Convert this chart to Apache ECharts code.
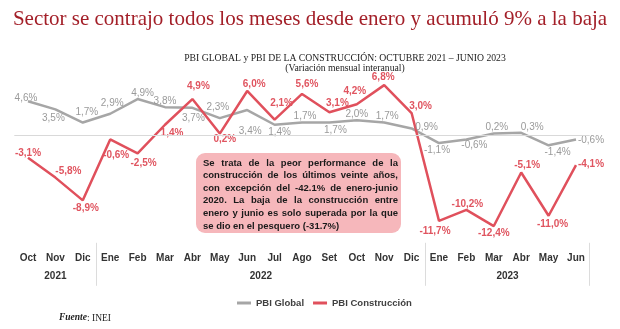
<!DOCTYPE html>
<html><head><meta charset="utf-8">
<script src="https://cdn.jsdelivr.net/npm/echarts@6/dist/echarts.min.js"></script>
<style>html,body{margin:0;padding:0;background:#fff}#c{width:620px;height:329px}</style>
</head><body><div id="c"></div>
<script>
var months = ['Oct','Nov','Dic','Ene','Feb','Mar','Abr','May','Jun','Jul','Ago','Set','Oct','Nov','Dic','Ene','Feb','Mar','Abr','May','Jun'];
var yearLabels = ['2021','2022','2023'];
var yearCenters = [1, 8.5, 17.5];
var yearSeparators = [2.5, 14.5, 20.5];
var pbiGlobal = [4.6,3.5,1.7,2.9,4.9,3.8,3.7,2.3,3.4,1.4,1.7,1.7,2.0,1.7,0.9,-1.1,-0.6,0.2,0.3,-1.4,-0.6];
var pbiConstruccion = [-3.1,-5.8,-8.9,-0.6,-2.5,1.4,4.9,0.2,6.0,2.1,5.6,3.1,4.2,6.8,3.0,-11.7,-10.2,-12.4,-5.1,-11.0,-4.1];
// label offsets (styling only), [dx, dy] from each point
var globalLabelOffsets = [[-2,-3],[-2,9],[4,-10],[2,-10],[5,-6],[0,-6],[1,10],[-2,-11],[3,21],[5,7],[3,-6],[6,8],[0,-6],[3,-6],[15,-1],[-2,7],[8,6],[3,-6],[11,-6],[9,7],[15,1]];
var consLabelOffsets = [[0,-5],[13,-6],[3,8],[6,16],[6,10],[7,8],[6,-13],[5,6],[7,-7],[7,-16],[5,-10],[8,-9],[-2,-13],[-1,-8],[9,-7],[-4,10],[1,-6],[0,7],[6,-7],[4,8],[15,-1]];
var noteLines = [
  'Se trata de la peor performance de la',
  'construcción de los últimos veinte años,',
  'con excepción del -42.1% de enero-junio',
  '2020. La baja de la construcción entre',
  'enero y junio es solo superada por la que',
  'se dio en el pesquero (-31.7%)'
];

function fmt(v){ return v.toFixed(1).replace('.', ',') + '%'; }
function mk(vals, offs){
  return vals.map(function(v,i){ return {value:v, label:{offset:offs[i]}}; });
}
// justified note text (decorative)
var noteFont = 'bold 9.5px "Liberation Sans"';
var ctx = document.createElement('canvas').getContext('2d');
ctx.font = noteFont;
var noteX = 203, noteW = 195, noteY = 158, noteLH = 12.6;
var noteEls = [];
noteLines.forEach(function(line, li){
  var words = line.split(' ');
  var y = noteY + li*noteLH;
  if (li === noteLines.length-1) {
    noteEls.push({type:'text', x:noteX, y:y, z:11, style:{text:line, font:noteFont, fill:'#1a1a1a'}});
    return;
  }
  var widths = words.map(function(w){ return ctx.measureText(w).width; });
  var total = widths.reduce(function(a,b){return a+b;},0);
  var gap = (noteW - total)/(words.length-1);
  var x = noteX;
  words.forEach(function(w,i){
    noteEls.push({type:'text', x:x, y:y, z:11, style:{text:w, font:noteFont, fill:'#1a1a1a'}});
    x += widths[i] + gap;
  });
});

var chart = echarts.init(document.getElementById('c'), null, {renderer:'canvas'});
chart.setOption({
  animation:false,
  title:[
    {text:'Sector se contrajo todos los meses desde enero y acumuló 9% a la baja', left:'center', top:4,
     textStyle:{fontFamily:'Liberation Serif', fontSize:21, fontWeight:'normal', color:'#a31f28'}},
    {text:'PBI GLOBAL y PBI DE LA CONSTRUCCIÓN: OCTUBRE 2021 – JUNIO 2023\n(Variación mensual interanual)', left:340, top:48, textAlign:'center',
     textStyle:{fontFamily:'Liberation Serif', fontSize:9.7, fontWeight:'normal', color:'#222', lineHeight:10.5, align:'center'}}
  ],
  grid:{left:14.3, right:30.3, top:76.3, bottom:91.2},
  xAxis:[
    {type:'category', data:months, boundaryGap:true, position:'bottom',
     axisLine:{show:false}, axisTick:{show:false},
     axisLabel:{margin:15, interval:0, fontFamily:'Liberation Sans', fontSize:10, fontWeight:'bold', color:'#333'}},
    {type:'value', min:-0.5, max:20.5, position:'bottom', offset:5, splitLine:{show:false},
     axisLine:{show:false},
     axisTick:{show:true, customValues:yearSeparators, length:43, lineStyle:{color:'#dcdcdc', width:1}},
     axisLabel:{customValues:yearCenters, margin:28, fontFamily:'Liberation Sans', fontSize:10, fontWeight:'bold', color:'#333',
       formatter:function(v){ var i = yearCenters.indexOf(v); return i>=0 ? yearLabels[i] : ''; }}}
  ],
  yAxis:{type:'value', min:-14, max:8, show:false, splitLine:{show:false}},
  legend:{top:293, left:232, itemGap:9, itemWidth:14, itemHeight:3, icon:'rect',
    textStyle:{fontFamily:'Liberation Sans', fontSize:9.5, fontWeight:'bold', color:'#404040'},
    data:['PBI Global','PBI Construcción']},
  series:[
    {name:'PBI Global', type:'line', data:mk(pbiGlobal, globalLabelOffsets), symbol:'circle', symbolSize:0, showSymbol:true, xAxisIndex:0,
     lineStyle:{color:'#a6a6a6', width:2.5}, itemStyle:{color:'#a6a6a6'},
     label:{show:true, position:'inside', formatter:function(p){return fmt(p.value);}, fontFamily:'Liberation Sans', fontSize:10, color:'#9a9a9a'},
     markLine:{silent:true, symbol:'none', label:{show:false}, lineStyle:{color:'#d9d9d9', width:1, type:'solid'}, data:[{yAxis:0}]}},
    {name:'PBI Construcción', type:'line', data:mk(pbiConstruccion, consLabelOffsets), symbol:'circle', symbolSize:0, showSymbol:true, xAxisIndex:0,
     lineStyle:{color:'#e0505c', width:2.5}, itemStyle:{color:'#e0505c'},
     label:{show:true, position:'inside', formatter:function(p){return fmt(p.value);}, fontFamily:'Liberation Sans', fontSize:10, fontWeight:'bold', color:'#e05560'}}
  ],
  graphic:[
    {type:'rect', left:196, top:153, shape:{width:205, height:80, r:9}, style:{fill:'#f6b7bb'}, z:10}
  ].concat(noteEls).concat([
    {type:'text', left:59, top:313, style:{
      rich:{a:{fontFamily:'Liberation Serif', fontStyle:'italic', fontWeight:'bold', fontSize:9.5, fill:'#222'},
            b:{fontFamily:'Liberation Serif', fontSize:9.5, fill:'#222'}},
      text:'{a|Fuente}{b|: INEI}'}}
  ])
});
</script></body></html>
